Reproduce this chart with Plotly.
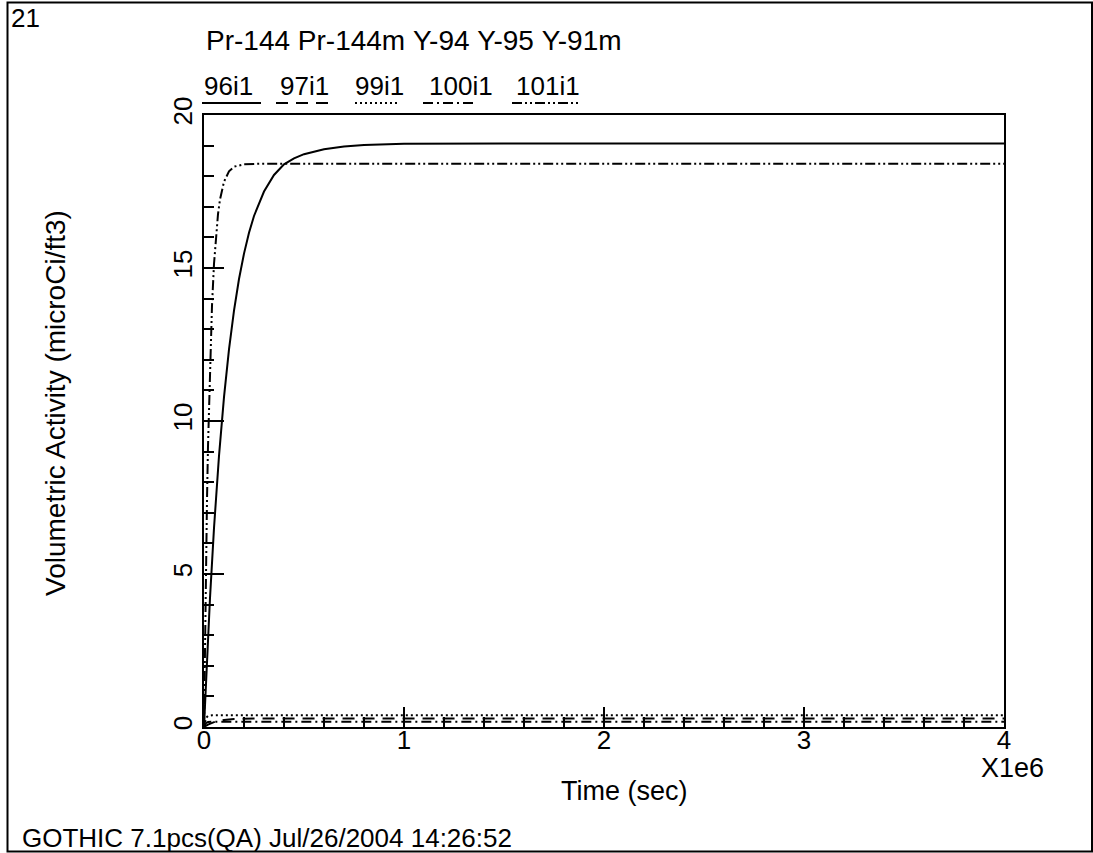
import plotly.graph_objects as go

# ---------------- data (time in seconds, activity in microCi/ft3) ----------------
t_96 = [0, 1e4, 2e4, 3e4, 5e4, 7.5e4, 1e5, 1.25e5, 1.5e5, 1.75e5, 2e5, 2.25e5, 2.5e5, 3e5,
        3.5e5, 4e5, 4.5e5, 5e5, 6e5, 7e5, 8e5, 1e6, 1.5e6, 2e6, 3e6, 4e6]
v_96 = [0, 1.52, 2.93, 4.22, 6.50, 8.86, 10.78, 12.34, 13.61, 14.64, 15.47, 16.15, 16.70, 17.50,
        18.04, 18.39, 18.58, 18.72, 18.88, 18.97, 19.02, 19.06, 19.07, 19.07, 19.07, 19.07]

t_97 = [0, 2e4, 5e4, 1e5, 1.5e5, 2e5, 3e5, 4e6]
v_97 = [0, 0.08, 0.16, 0.23, 0.26, 0.27, 0.28, 0.28]

t_99 = [0, 5e3, 1e4, 2e4, 4e4, 4e6]
v_99 = [0, 0.20, 0.30, 0.36, 0.38, 0.38]

t_100 = [0, 5e3, 1e4, 2e4, 4e4, 4e6]
v_100 = [0, 0.09, 0.13, 0.16, 0.17, 0.17]

t_101 = [0, 5e3, 1e4, 1.5e4, 2e4, 3e4, 4e4, 5e4, 6e4, 7e4, 8e4, 9e4, 1e5, 1.25e5,
         1.5e5, 2e5, 3e5, 4e6]
v_101 = [0, 2.92, 5.37, 7.43, 9.17, 11.86, 13.77, 15.13, 16.08, 16.76, 17.24, 17.57, 17.82, 18.16,
         18.31, 18.39, 18.41, 18.41]

series_names = ["96i1", "97i1", "99i1", "100i1", "101i1"]
x_tick_vals = [0, 1e6, 2e6, 3e6, 4e6]
x_tick_text = ["0", "1", "2", "3", "4"]
y_tick_vals = [0, 5, 10, 15, 20]
y_tick_text = ["0", "5", "10", "15", "20"]

title_words = ["Pr-144", "Pr-144m", "Y-94", "Y-95", "Y-91m"]
footer_text = "GOTHIC 7.1pcs(QA) Jul/26/2004 14:26:52"

# ---------------- layout geometry ----------------
WIDTH, HEIGHT = 1093, 853
L, T, W, H = 204, 115, 800, 612
FONT = "Liberation Sans, Arial, sans-serif"
FS = 26


def px(x):
    return (x - L) / W


def py(y):
    return (T + H - y) / H


DASHES = {
    "96i1": "solid",
    "97i1": "12px,8px",
    "99i1": "2px,3px",
    "100i1": "10px,4px,2px,4px",
    "101i1": "10px,3px,2px,3px,2px,3px",
}

fig = go.Figure()
for name, tt, vv in [("96i1", t_96, v_96), ("97i1", t_97, v_97), ("99i1", t_99, v_99),
                     ("100i1", t_100, v_100), ("101i1", t_101, v_101)]:
    fig.add_trace(go.Scatter(x=tt, y=vv, mode="lines", name=name,
                             line=dict(color="black", width=2, dash=DASHES[name])))

annotations = []
shapes = []


def text(s, x, y, xanchor="left", size=FS, angle=0):
    annotations.append(dict(text=s, x=px(x), y=py(y), xref="paper", yref="paper",
                            xanchor=xanchor, yanchor="middle", showarrow=False,
                            textangle=angle, font=dict(family=FONT, size=size, color="black")))


text("21", 9, 18)
text("\u00a0".join(title_words), 204, 40, size=28)
text("X1e6", 1012, 768, xanchor="center", size=27)
text("Time (sec)", 624, 791, xanchor="center", size=27)
text("Volumetric Activity (microCi/ft3)", 55, 403, xanchor="center", angle=-90, size=28)
text(footer_text, 20, 838, size=26)

legend_text_x = [202, 278, 353, 427, 514]
legend_line_x = [(202, 261), (276, 334), (355, 399), (423, 476), (512, 578)]
for name, lx, (a, b) in zip(series_names, legend_text_x, legend_line_x):
    text(name, lx, 86)
    shapes.append(dict(type="line", xref="paper", yref="paper", x0=px(a), x1=px(b),
                       y0=py(103), y1=py(103),
                       line=dict(color="black", width=2, dash=DASHES[name])))

# outer frame
shapes.append(dict(type="rect", xref="paper", yref="paper", x0=px(7.5), x1=px(1092),
                   y0=py(851.5), y1=py(2.5), line=dict(color="black", width=2)))

fig.update_layout(
    width=WIDTH, height=HEIGHT,
    margin=dict(l=L, r=WIDTH - L - W, t=T, b=HEIGHT - T - H, pad=0),
    paper_bgcolor="white", plot_bgcolor="white",
    showlegend=False,
    font=dict(family=FONT, size=FS, color="black"),
    annotations=annotations, shapes=shapes,
)
fig.update_xaxes(range=[0, 4e6], tickvals=x_tick_vals, ticktext=x_tick_text,
                 showline=True, linewidth=2, linecolor="black", mirror=True,
                 ticks="inside", ticklen=20, tickwidth=2, tickcolor="black",
                 minor=dict(dtick=2e5, ticks="inside", ticklen=10, tickwidth=2,
                            tickcolor="black", showgrid=False),
                 showgrid=False, zeroline=False, ticklabelstandoff=-11,
                 tickfont=dict(family=FONT, size=FS, color="black"))
fig.update_yaxes(range=[0, 20], tickvals=y_tick_vals, ticktext=y_tick_text,
                 showline=True, linewidth=2, linecolor="black", mirror=True,
                 ticks="inside", ticklen=20, tickwidth=2, tickcolor="black",
                 minor=dict(dtick=1, ticks="inside", ticklen=10, tickwidth=2,
                            tickcolor="black", showgrid=False),
                 showgrid=False, zeroline=False, tickangle=-90,
                 tickfont=dict(family=FONT, size=FS, color="black"))

fig.write_html("out.html")
